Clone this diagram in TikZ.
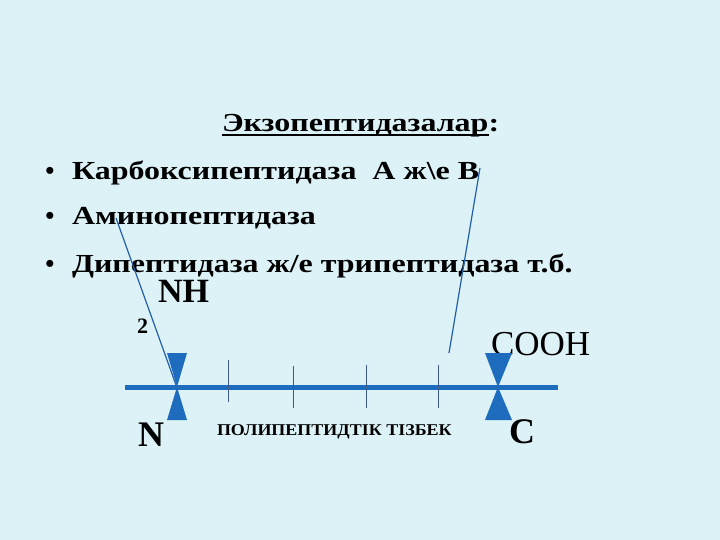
\documentclass[tikz,border=0pt]{standalone}
\usepackage{fontspec}
\setmainfont{Liberation Serif}
\newfontfamily\widefont[FakeStretch=1.23]{Liberation Serif}
\newfontfamily\midfont[FakeStretch=1.09]{Liberation Serif}
\definecolor{bg}{RGB}{220,242,246}
\definecolor{chainblue}{RGB}{30,108,190}
\definecolor{thinblue}{RGB}{35,95,170}
\definecolor{tickcol}{RGB}{60,90,140}
\begin{document}
\begin{tikzpicture}[x=1pt,y=-1pt,
  txt/.style={inner sep=0pt,outer sep=0pt,anchor=base west,font=\widefont\fontsize{26}{28}\selectfont\bfseries},
  bul/.style={inner sep=0pt,anchor=base,font=\fontsize{26}{28}\selectfont\bfseries},
  lbl/.style={inner sep=0pt,outer sep=0pt,anchor=base west},
  conn/.style={draw=thinblue,line width=1.2pt},
  tickline/.style={draw=tickcol,line width=0.8pt},
  bow/.style={fill=chainblue}]
\fill[bg] (0,0) rectangle (720,540);
\useasboundingbox (0,0) rectangle (720,540);
% title
\node[txt] (tw) at (222,132) {Экзопептидазалар};
\node[txt] (tc) at (tw.base east) {:};
\draw[line width=1.6pt] ([yshift=-2.8pt]tw.base west) -- ([yshift=-2.8pt]tw.base east);
% bullets
\node[bul] (b1) at (50,180) {•};
\node[bul] (b2) at (50,225) {•};
\node[bul] (b3) at (50,272) {•};
\node[txt] (l1) at (72,180) {Карбоксипептидаза\ \ А ж\textbackslash е В};
\node[txt] (l2) at (72,225) {Аминопептидаза};
\node[txt] (l3) at (72,272) {Дипептидаза ж/е трипептидаза т.б.};
% labels
\node[lbl,font=\fontsize{34}{36}\selectfont\bfseries] (nh) at (158,302) {NH};
\node[lbl,font=\fontsize{22}{24}\selectfont\bfseries] (two) at (137,333) {2};
\node[lbl,font=\fontsize{35}{37}\selectfont] (cooh) at (491,355) {COOH};
\node[lbl,font=\fontsize{36}{38}\selectfont\bfseries] (nl) at (138,446) {N};
\node[lbl,font=\fontsize{36}{38}\selectfont\bfseries] (cl) at (509,443) {C};
\node[lbl,font=\midfont\fontsize{16.5}{18}\selectfont\bfseries] (chain) at (217,435) {ПОЛИПЕПТИДТІК ТІЗБЕК};
% chain
\coordinate (cs) at (125,387);
\coordinate (ce) at (558,387);
\coordinate (nc) at (177,387);
\coordinate (cc) at (498,387);
\draw[chainblue,line width=5pt] (cs) -- (ce);
\foreach \x/\a/\b in {228/360/402, 293/366/408, 366/365/408, 438/365/408}
  \draw[tickline] (\x,\a) -- (\x,\b);
\fill[bow] (167,353) -- (187,353) -- (nc) -- cycle;
\fill[bow] (nc) -- (167,420) -- (187,420) -- cycle;
\fill[bow] (485,353) -- (512,353) -- (cc) -- cycle;
\fill[bow] (cc) -- (485,420) -- (512,420) -- cycle;
% connectors
\coordinate (ps) at (116,218);
\coordinate (pe) at (176,385);
\coordinate (qs) at (480,168);
\coordinate (qe) at (449,353);
\draw[conn] (ps) -- (pe);
\draw[conn] (qs) -- (qe);
\end{tikzpicture}
\end{document}
